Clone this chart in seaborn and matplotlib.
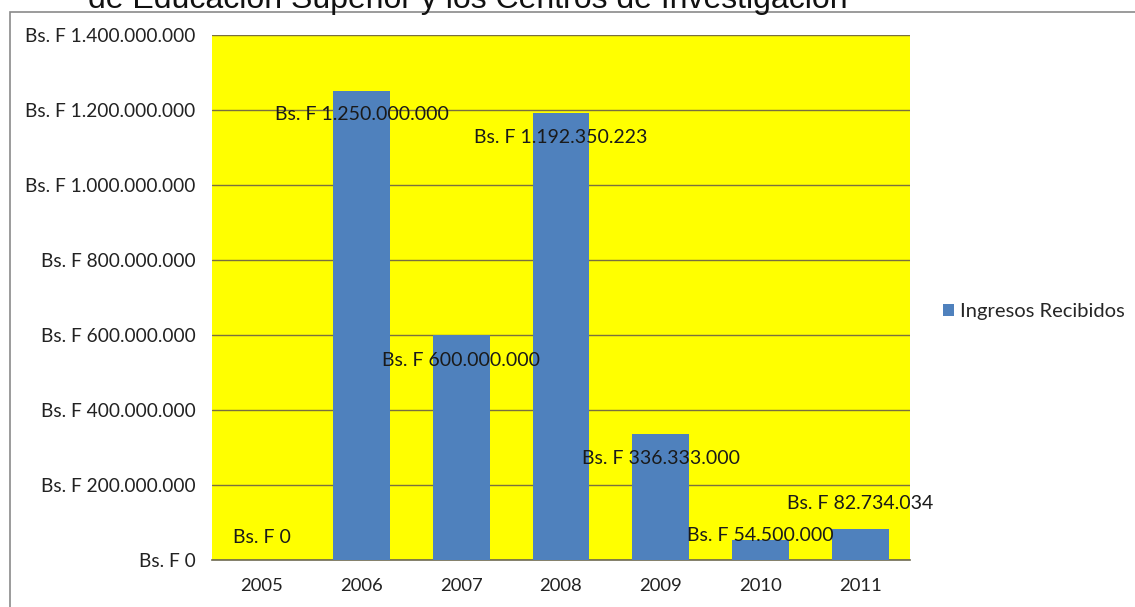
import matplotlib
matplotlib.use("Agg")
import matplotlib.pyplot as plt
import seaborn as sns
import pandas as pd
from matplotlib.patches import Rectangle, Patch

years = ["2005", "2006", "2007", "2008", "2009", "2010", "2011"]
ingresos = [0, 1250000000, 600000000, 1192350223, 336333000, 54500000, 82734034]
etiquetas = ["Bs. F 0", "Bs. F 1.250.000.000", "Bs. F 600.000.000", "Bs. F 1.192.350.223",
             "Bs. F 336.333.000", "Bs. F 54.500.000", "Bs. F 82.734.034"]
yticks = [0, 200000000, 400000000, 600000000, 800000000, 1000000000, 1200000000, 1400000000]
ytick_labels = ["Bs. F 0", "Bs. F 200.000.000", "Bs. F 400.000.000", "Bs. F 600.000.000",
                "Bs. F 800.000.000", "Bs. F 1.000.000.000", "Bs. F 1.200.000.000", "Bs. F 1.400.000.000"]
titulo = "de Educación Superior y los Centros de Investigación"
serie = "Ingresos Recibidos"

df = pd.DataFrame({"year": years, "ingresos": ingresos})

sns.set_style("white")
plt.rcParams["font.family"] = ["Lato", "DejaVu Sans"]

fig = plt.figure(figsize=(11.35, 6.07), dpi=100)
W, H = 1135, 607
ax = fig.add_axes([212 / W, 1 - 560 / H, (910 - 212) / W, (560 - 35) / H])
ax.set_facecolor("#ffff00")

sns.barplot(data=df, x="year", y="ingresos", color="#4f81bd", width=0.57,
            saturation=1, linewidth=0, ax=ax, zorder=3)

ax.set_ylim(0, 1400000000)
ax.set_yticks(yticks)
ax.set_yticklabels(ytick_labels, fontsize=13.8, color="#222222")
ax.tick_params(axis="x", labelsize=13.3, colors="#222222", pad=13, length=0)
ax.tick_params(axis="y", pad=12, length=0)
ax.set_xlabel("")
ax.set_ylabel("")
ax.grid(axis="y", color="#7a7040", linewidth=1, zorder=1)
ax.set_axisbelow(True)
for s in ["left", "right", "top"]:
    ax.spines[s].set_visible(False)
ax.spines["bottom"].set_color("#6e6a50")
ax.spines["bottom"].set_linewidth(1.2)

# offsets (points) of each data label relative to bar top
offs = [(0, 16), (0, -17), (0, -18), (0, -18), (0, -18), (0, 3), (0, 18)]
for i, (v, lab) in enumerate(zip(ingresos, etiquetas)):
    ax.annotate(lab, (i, v), xytext=offs[i], textcoords="offset points",
                ha="center", va="center", fontsize=14, color="#1a1a1a", zorder=5)

handles = [Patch(facecolor="#4f81bd", edgecolor="none")]
fig.legend(handles, [serie], loc="center left", bbox_to_anchor=(935 / W, 1 - 312 / H),
           frameon=False, fontsize=14.5, handlelength=0.55, handleheight=0.55,
           handletextpad=0.3, borderaxespad=0)

fig.patches.append(Rectangle((10 / W, -0.01), 1.2, 1 - 12 / H + 0.01, transform=fig.transFigure,
                             fill=False, edgecolor="#8a8a8a", linewidth=1.2))

fig.text(88 / W, 1 - 8 / H, titulo, fontsize=23, family="Liberation Sans",
         ha="left", va="baseline", color="#111111")

fig.savefig("out.png", dpi=100)
